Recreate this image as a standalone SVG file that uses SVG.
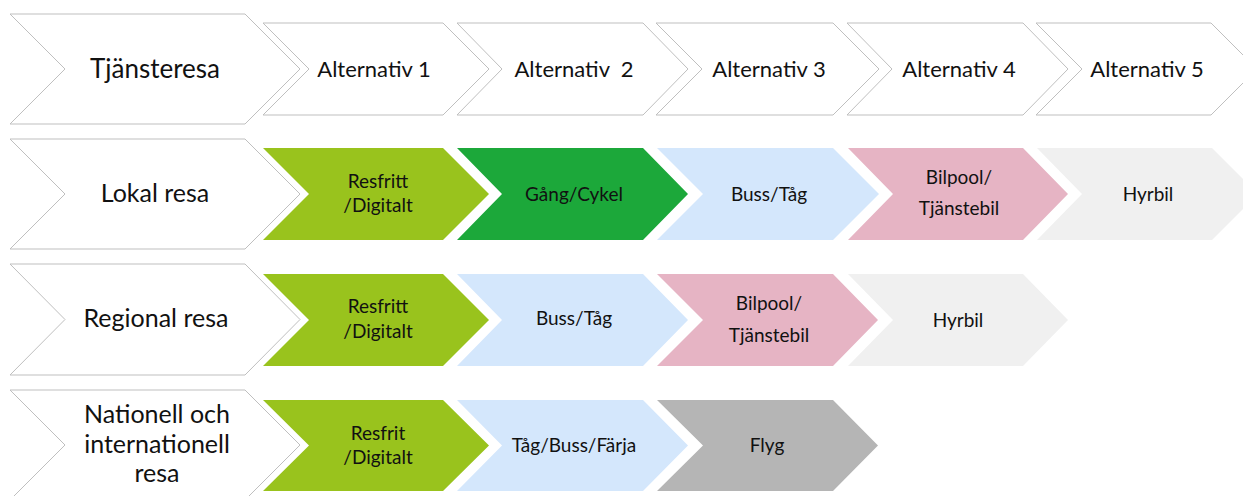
<svg xmlns="http://www.w3.org/2000/svg" width="1243" height="496" viewBox="0 0 1243 496">
  <style>
    text { font-family: Lato, "Open Sans", "Liberation Sans", sans-serif; fill: #111; text-anchor: middle; }
    .outline { fill: #ffffff; stroke: #bfbfbf; stroke-width: 1; }
    .big { font-size: 25px; }
    .title { font-size: 26px; }
    .head { font-size: 22px; }
    .lbl { font-size: 19px; }
    .lgreen { fill: #99c31d; }
    .dgreen { fill: #1ca83a; }
    .blue { fill: #d4e7fc; }
    .pink { fill: #e6b4c4; }
    .lgray { fill: #f0f0f0; }
    .gray { fill: #b5b5b5; }
  </style>
  <rect width="1243" height="496" fill="#ffffff"/>

  <!-- header row -->
  <g id="tjansteresa">
    <polygon class="outline" points="10,14 245,14 300,69 245,124 10,124 65,69"/>
    <text class="title" x="155" y="78">Tjänsteresa</text>
  </g>
  <g id="alt1">
    <polygon class="outline" points="263,23 443,23 489,69 443,115 263,115 309,69"/>
    <text class="head" x="374" y="77">Alternativ 1</text>
  </g>
  <g id="alt2">
    <polygon class="outline" points="457,23 643,23 688,69 643,115 457,115 502,69"/>
    <text class="head" x="574" y="77" xml:space="preserve">Alternativ  2</text>
  </g>
  <g id="alt3">
    <polygon class="outline" points="656,23 833,23 879,69 833,115 656,115 702,69"/>
    <text class="head" x="769" y="77">Alternativ 3</text>
  </g>
  <g id="alt4">
    <polygon class="outline" points="847,23 1023,23 1068,69 1023,115 847,115 892,69"/>
    <text class="head" x="959" y="77">Alternativ 4</text>
  </g>
  <g id="alt5">
    <polygon class="outline" points="1036,23 1211,23 1257,69 1211,115 1036,115 1082,69"/>
    <text class="head" x="1147" y="77">Alternativ 5</text>
  </g>

  <!-- local trips -->
  <g id="lokal">
    <polygon class="outline" points="10,139 245,139 300,194 245,249 10,249 65,194"/>
    <text class="big" x="155" y="202">Lokal resa</text>
  </g>
  <g id="lokal-resfritt">
    <polygon class="lgreen" points="263,148 443,148 489,194 443,240 263,240 309,194"/>
    <text class="lbl"><tspan x="378" y="188">Resfritt</tspan><tspan x="378" y="212">/Digitalt</tspan></text>
  </g>
  <g id="lokal-gang">
    <polygon class="dgreen" points="457,148 643,148 688,194 643,240 457,240 502,194"/>
    <text class="lbl" x="574" y="201">Gång/Cykel</text>
  </g>
  <g id="lokal-buss">
    <polygon class="blue" points="657,148 833,148 879,194 833,240 657,240 703,194"/>
    <text class="lbl" x="769" y="201">Buss/Tåg</text>
  </g>
  <g id="lokal-bilpool">
    <polygon class="pink" points="848,148 1023,148 1068,194 1023,240 848,240 893,194"/>
    <text class="lbl"><tspan x="959" y="184">Bilpool/</tspan><tspan x="959" y="215">Tjänstebil</tspan></text>
  </g>
  <g id="lokal-hyrbil">
    <polygon class="lgray" points="1037,148 1212,148 1258,194 1212,240 1037,240 1082,194"/>
    <text class="lbl" x="1148" y="201">Hyrbil</text>
  </g>

  <!-- regional trips -->
  <g id="regional">
    <polygon class="outline" points="10,264 245,264 300,319.5 245,375 10,375 65,319.5"/>
    <text class="big" x="156" y="327">Regional resa</text>
  </g>
  <g id="regional-resfritt">
    <polygon class="lgreen" points="263,274 443,274 489,320 443,366 263,366 309,320"/>
    <text class="lbl"><tspan x="378" y="313">Resfritt</tspan><tspan x="378" y="338">/Digitalt</tspan></text>
  </g>
  <g id="regional-buss">
    <polygon class="blue" points="457,274 643,274 688,320 643,366 457,366 502,320"/>
    <text class="lbl" x="574" y="325">Buss/Tåg</text>
  </g>
  <g id="regional-bilpool">
    <polygon class="pink" points="657,274 833,274 878,320 833,366 657,366 703,320"/>
    <text class="lbl"><tspan x="769" y="310">Bilpool/</tspan><tspan x="769" y="342">Tjänstebil</tspan></text>
  </g>
  <g id="regional-hyrbil">
    <polygon class="lgray" points="848,274 1023,274 1068,320 1023,366 848,366 893,320"/>
    <text class="lbl" x="958" y="327">Hyrbil</text>
  </g>

  <!-- national and international trips -->
  <g id="nationell">
    <polygon class="outline" points="10,390 245,390 300,445 245,500 10,500 65,445"/>
    <text class="big"><tspan x="157" y="423">Nationell och</tspan><tspan x="157" y="453">internationell</tspan><tspan x="157" y="482">resa</tspan></text>
  </g>
  <g id="nationell-resfrit">
    <polygon class="lgreen" points="263,400 443,400 489,445.5 443,491 263,491 309,445.5"/>
    <text class="lbl"><tspan x="378" y="440">Resfrit</tspan><tspan x="378" y="464">/Digitalt</tspan></text>
  </g>
  <g id="nationell-tag">
    <polygon class="blue" points="457,400 643,400 688,445.5 643,491 457,491 502,445.5"/>
    <text class="lbl" x="574" y="452">Tåg/Buss/Färja</text>
  </g>
  <g id="nationell-flyg">
    <polygon class="gray" points="657,400 833,400 878,445.5 833,491 657,491 703,445.5"/>
    <text class="lbl" x="767" y="452">Flyg</text>
  </g>

  <g id="connectors"/>
</svg>
